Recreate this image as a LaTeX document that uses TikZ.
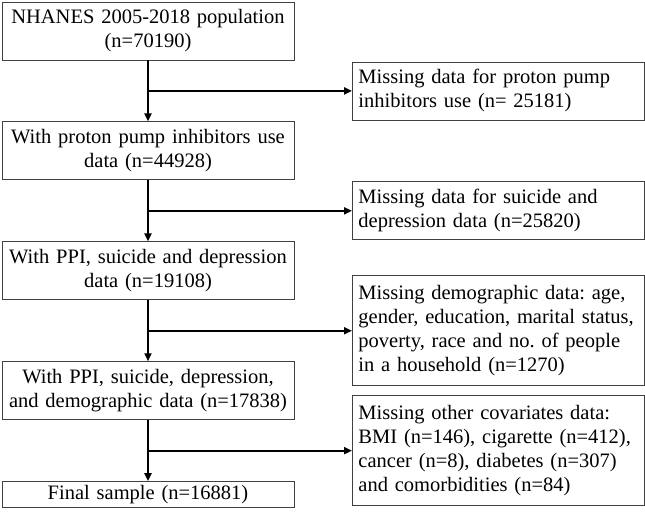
\documentclass[tikz,border=0pt]{standalone}
\usepackage{fontspec}
\setmainfont{Liberation Serif}
\usetikzlibrary{positioning, arrows.meta}
\frenchspacing

\begin{document}
\begin{tikzpicture}[
  node distance=61pt and 204pt,
  every node/.style={font=\fontsize{20.5pt}{24pt}\selectfont},
  box/.style={draw=black!75, line width=0.9pt, text width=280pt, inner xsep=6pt,
              inner ysep=3pt, minimum height=58pt, align=center},
  side/.style={box, align=left},
  arrow/.style={-{Triangle[length=8pt, width=7pt]}, line width=2pt},
]
\useasboundingbox (0,0) rectangle (645pt,-514pt);

% Main flow
\node[box] (pop) at (148pt,-31pt) {NHANES 2005-2018 population \\ (n=70190)};
\node[box, below=of pop] (ppi) {With proton pump inhibitors use \\ data (n=44928)};
\node[box, below=of ppi] (ppisd) {With PPI, suicide and depression \\ data (n=19108)};
\node[box, below=of ppisd] (demo) {With PPI, suicide, depression, \\ and demographic data (n=17838)};
\node[box, below=of demo, minimum height=26pt] (final) {Final sample (n=16881)};

% Branch points
\path (pop.south) -- coordinate[midway] (j1) (ppi.north);
\path (ppi.south) -- coordinate[midway] (j2) (ppisd.north);
\path (ppisd.south) -- coordinate[midway] (j3) (demo.north);
\path (demo.south) -- coordinate[midway] (j4) (final.north);

% Exclusions
\node[side, right=of j1] (missppi) {Missing data for proton pump \\ inhibitors use (n= 25181)};
\node[side, right=of j2] (misssd) {Missing data for suicide and \\ depression data (n=25820)};
\node[side, right=of j3, minimum height=110pt] (missdemo)
  {Missing demographic data: age, \\ gender, education, marital status, \\
   poverty, race and no. of people \\ in a household (n=1270)};
\node[side, right=of j4, minimum height=110pt] (misscov)
  {Missing other covariates data: \\ BMI (n=146), cigarette (n=412), \\
   cancer (n=8), diabetes (n=307) \\ and comorbidities (n=84)};

% Arrows
\draw[arrow] (pop) -- (ppi);
\draw[arrow] (ppi) -- (ppisd);
\draw[arrow] (ppisd) -- (demo);
\draw[arrow] (demo) -- (final);
\draw[arrow] (j1) -- (missppi);
\draw[arrow] (j2) -- (misssd);
\draw[arrow] (j3) -- (missdemo);
\draw[arrow] (j4) -- (misscov);

\end{tikzpicture}
\end{document}
